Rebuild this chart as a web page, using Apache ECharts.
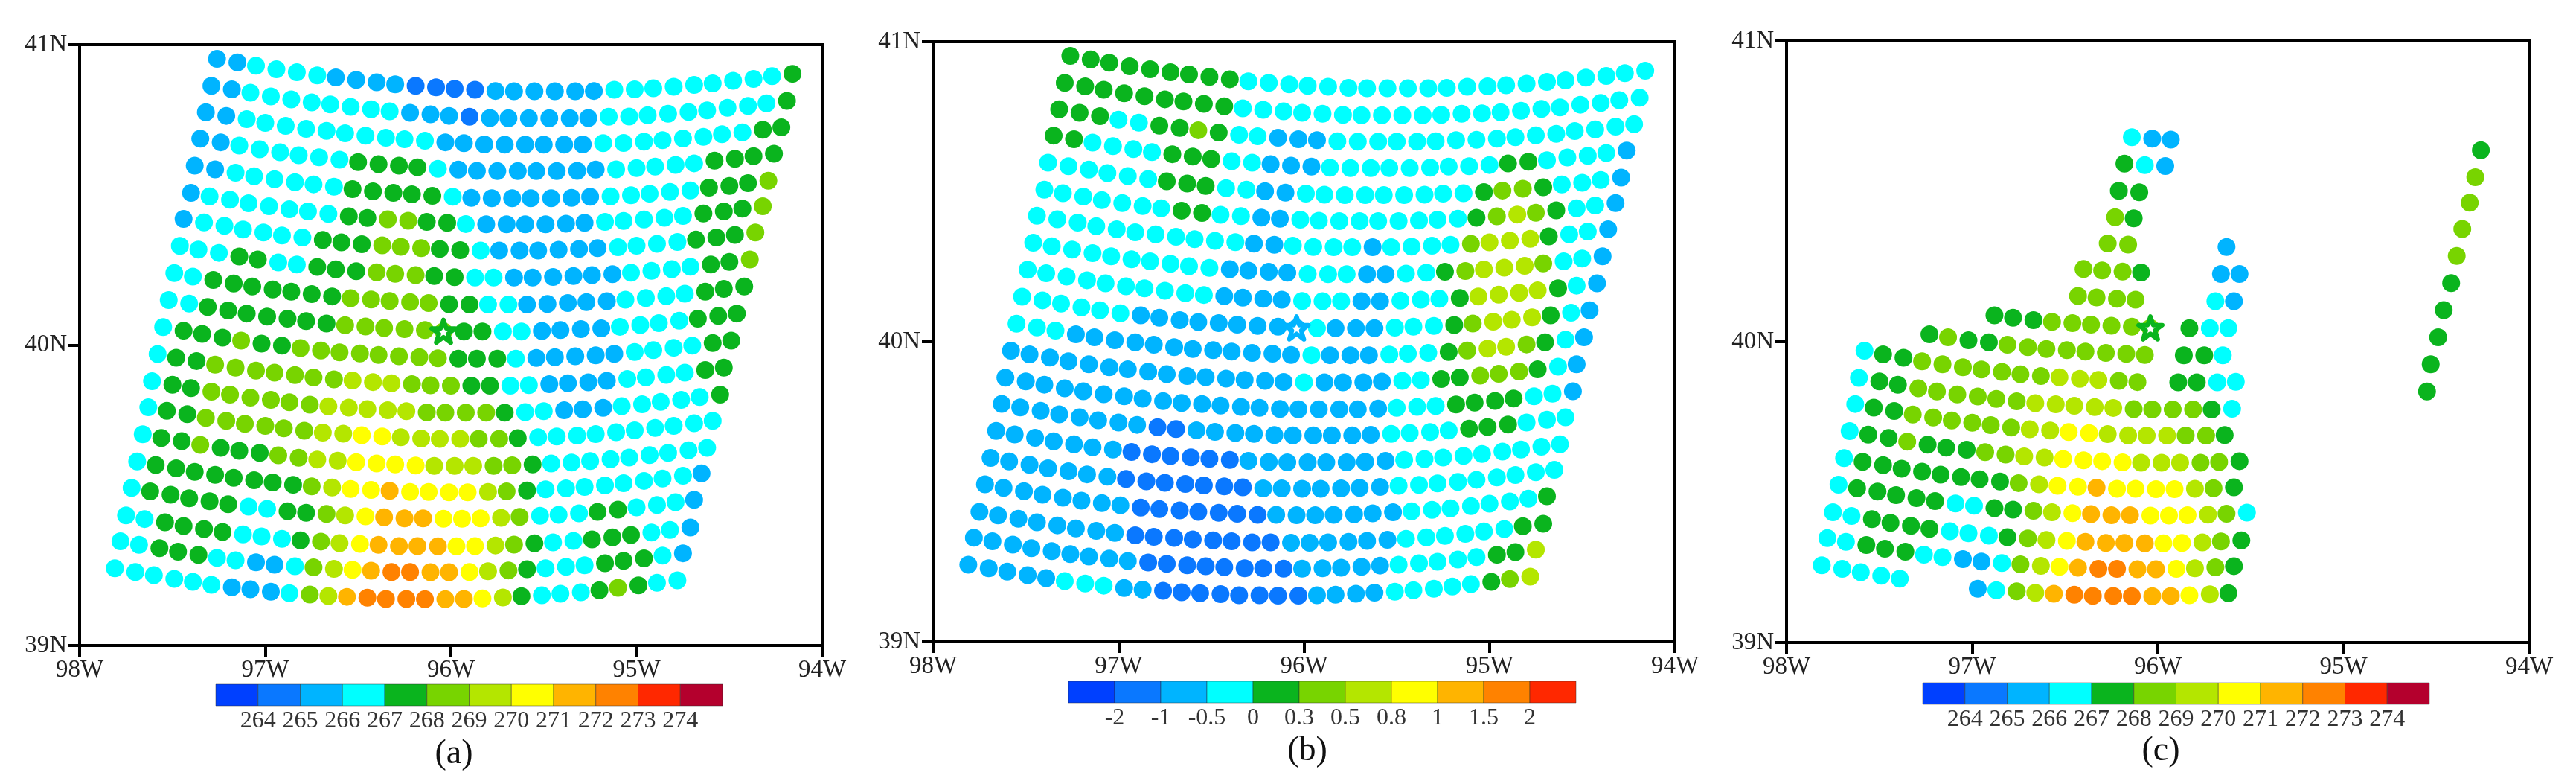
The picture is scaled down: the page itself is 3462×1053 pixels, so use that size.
<!DOCTYPE html>
<html>
<head>
<meta charset="utf-8">
<style>html,body{margin:0;background:#fff}#chart{width:3462px;height:1053px}</style>
<script src="https://cdn.jsdelivr.net/npm/echarts@6/dist/echarts.min.js"></script>
</head>
<body>
<div id="chart"></div>
<script>
// footprint longitude (degrees west), one row per scan line
const lonRows = [
[97.26,97.15,97.05,96.94,96.83,96.72,96.62,96.51,96.40,96.30,96.19,96.08,95.98,95.87,95.76,95.66,95.55,95.44,95.33,95.23,95.12,95.01,94.91,94.80,94.69,94.59,94.48,94.37,94.27,94.16],
[97.29,97.18,97.08,96.97,96.86,96.75,96.65,96.54,96.43,96.33,96.22,96.11,96.01,95.90,95.79,95.69,95.58,95.47,95.36,95.26,95.15,95.04,94.94,94.83,94.72,94.62,94.51,94.40,94.30,94.19],
[97.32,97.21,97.10,97.00,96.89,96.78,96.67,96.57,96.46,96.35,96.25,96.14,96.03,95.93,95.82,95.71,95.60,95.50,95.39,95.29,95.18,95.07,94.96,94.86,94.75,94.64,94.54,94.43,94.32,94.22],
[97.35,97.24,97.14,97.03,96.92,96.82,96.71,96.60,96.50,96.39,96.28,96.18,96.07,95.96,95.86,95.75,95.64,95.54,95.43,95.32,95.22,95.11,95.00,94.90,94.79,94.69,94.58,94.47,94.37,94.26],
[97.38,97.27,97.16,97.06,96.95,96.84,96.74,96.63,96.53,96.42,96.31,96.21,96.10,95.99,95.89,95.78,95.67,95.57,95.46,95.35,95.25,95.14,95.03,94.93,94.82,94.71,94.61,94.50,94.40,94.29],
[97.40,97.30,97.19,97.09,96.98,96.87,96.77,96.66,96.55,96.45,96.34,96.23,96.13,96.02,95.92,95.81,95.70,95.60,95.49,95.38,95.28,95.17,95.07,94.96,94.85,94.75,94.64,94.53,94.43,94.32],
[97.44,97.33,97.22,97.12,97.01,96.91,96.80,96.69,96.59,96.48,96.37,96.27,96.16,96.06,95.95,95.84,95.74,95.63,95.53,95.42,95.31,95.21,95.10,95.00,94.89,94.78,94.68,94.57,94.47,94.36],
[97.46,97.36,97.25,97.14,97.04,96.93,96.83,96.72,96.62,96.51,96.40,96.30,96.19,96.09,95.98,95.87,95.77,95.66,95.56,95.45,95.34,95.24,95.13,95.03,94.92,94.81,94.71,94.60,94.50,94.39],
[97.49,97.39,97.28,97.17,97.07,96.96,96.86,96.75,96.64,96.54,96.43,96.33,96.22,96.12,96.01,95.90,95.80,95.69,95.59,95.48,95.37,95.27,95.16,95.06,94.95,94.84,94.74,94.63,94.53,94.42],
[97.52,97.41,97.31,97.20,97.10,96.99,96.88,96.78,96.67,96.57,96.46,96.36,96.25,96.14,96.04,95.93,95.83,95.72,95.62,95.51,95.41,95.30,95.19,95.09,94.98,94.88,94.77,94.67,94.56,94.46],
[97.55,97.44,97.34,97.23,97.13,97.02,96.91,96.81,96.70,96.60,96.49,96.39,96.28,96.17,96.07,95.96,95.86,95.75,95.65,95.54,95.44,95.33,95.22,95.12,95.01,94.91,94.80,94.70,94.59,94.49],
[97.58,97.48,97.37,97.27,97.16,97.05,96.95,96.84,96.74,96.63,96.53,96.42,96.32,96.21,96.11,96.00,95.89,95.79,95.68,95.58,95.47,95.37,95.26,95.16,95.05,94.95,94.84,94.74,94.63,94.53],
[97.61,97.50,97.40,97.29,97.19,97.08,96.97,96.87,96.76,96.66,96.55,96.45,96.34,96.24,96.13,96.03,95.92,95.81,95.71,95.60,95.50,95.39,95.29,95.18,95.08,94.97,94.87,94.76,94.66,94.55],
[97.63,97.53,97.42,97.32,97.21,97.11,97.00,96.90,96.79,96.69,96.58,96.48,96.37,96.27,96.16,96.06,95.95,95.85,95.74,95.64,95.53,95.43,95.32,95.22,95.11,95.01,94.90,94.80,94.69,94.59],
[97.66,97.56,97.45,97.35,97.24,97.14,97.03,96.93,96.82,96.72,96.61,96.51,96.40,96.30,96.19,96.09,95.98,95.88,95.77,95.67,95.56,95.46,95.35,95.25,95.14,95.04,94.93,94.83,94.72,94.62],
[97.69,97.59,97.48,97.38,97.27,97.17,97.06,96.96,96.85,96.75,96.64,96.54,96.43,96.33,96.22,96.12,96.01,95.91,95.80,95.70,95.59,95.49,95.38,95.28,95.17,95.07,94.96,94.86,94.75,94.65],
[97.72,97.62,97.51,97.41,97.30,97.20,97.09,96.99,96.88,96.78,96.67,96.57,96.46,96.36,96.25,96.15,96.04,95.94,95.84,95.73,95.63,95.52,95.42,95.31,95.21,95.10,95.00,94.89,94.79,94.69],
[97.75,97.65,97.54,97.44,97.33,97.23,97.12,97.02,96.91,96.81,96.70,96.60,96.49,96.39,96.28,96.18,96.07,95.97,95.87,95.76,95.66,95.55,95.45,95.34,95.24,95.13,95.03,94.92,94.82,94.71],
[97.78,97.68,97.57,97.47,97.36,97.26,97.16,97.05,96.95,96.84,96.74,96.63,96.53,96.43,96.32,96.22,96.11,96.01,95.90,95.80,95.69,95.59,95.49,95.38,95.28,95.17,95.07,94.96,94.86,94.75],
[97.81,97.70,97.60,97.49,97.39,97.29,97.18,97.08,96.97,96.87,96.76,96.66,96.56,96.45,96.35,96.24,96.14,96.03,95.93,95.83,95.72,95.62,95.51,95.41,95.30,95.20,95.10,94.99,94.89,94.78]
];
// footprint latitude (degrees north)
const latRows = [
[40.953,40.941,40.930,40.918,40.908,40.898,40.891,40.883,40.875,40.868,40.863,40.858,40.853,40.850,40.846,40.845,40.845,40.845,40.845,40.846,40.850,40.851,40.855,40.860,40.866,40.871,40.880,40.886,40.895,40.903],
[40.863,40.851,40.840,40.828,40.818,40.808,40.801,40.793,40.785,40.778,40.773,40.768,40.763,40.760,40.756,40.755,40.755,40.755,40.755,40.756,40.760,40.761,40.765,40.770,40.776,40.781,40.790,40.796,40.805,40.813],
[40.775,40.763,40.752,40.740,40.730,40.720,40.713,40.705,40.697,40.690,40.685,40.680,40.675,40.672,40.668,40.667,40.667,40.667,40.667,40.668,40.672,40.673,40.677,40.682,40.688,40.693,40.702,40.708,40.717,40.725],
[40.687,40.675,40.664,40.652,40.642,40.632,40.625,40.617,40.609,40.602,40.597,40.592,40.587,40.584,40.580,40.579,40.579,40.579,40.579,40.580,40.584,40.585,40.589,40.594,40.600,40.605,40.614,40.620,40.629,40.637],
[40.597,40.585,40.574,40.562,40.552,40.542,40.535,40.527,40.519,40.512,40.507,40.502,40.497,40.494,40.490,40.489,40.489,40.489,40.489,40.490,40.494,40.495,40.499,40.504,40.510,40.515,40.524,40.530,40.539,40.547],
[40.507,40.495,40.484,40.472,40.462,40.452,40.445,40.437,40.429,40.423,40.419,40.414,40.410,40.407,40.403,40.402,40.402,40.402,40.402,40.404,40.407,40.410,40.413,40.418,40.424,40.430,40.438,40.445,40.454,40.462],
[40.420,40.408,40.397,40.385,40.375,40.365,40.358,40.350,40.342,40.336,40.332,40.327,40.323,40.320,40.316,40.315,40.315,40.315,40.315,40.317,40.320,40.323,40.326,40.331,40.337,40.343,40.351,40.358,40.367,40.375],
[40.330,40.318,40.307,40.295,40.285,40.275,40.268,40.260,40.252,40.246,40.242,40.237,40.233,40.230,40.226,40.225,40.225,40.225,40.225,40.227,40.230,40.233,40.236,40.241,40.247,40.253,40.261,40.268,40.277,40.285],
[40.240,40.228,40.217,40.205,40.195,40.185,40.178,40.170,40.162,40.156,40.152,40.147,40.143,40.140,40.136,40.135,40.135,40.135,40.135,40.137,40.140,40.143,40.146,40.151,40.157,40.163,40.171,40.178,40.187,40.195],
[40.150,40.138,40.127,40.115,40.105,40.095,40.088,40.080,40.072,40.066,40.062,40.057,40.053,40.050,40.046,40.045,40.045,40.045,40.045,40.047,40.050,40.053,40.056,40.061,40.067,40.073,40.081,40.088,40.097,40.105],
[40.060,40.048,40.037,40.025,40.015,40.005,39.998,39.990,39.982,39.976,39.972,39.967,39.963,39.960,39.956,39.955,39.955,39.955,39.955,39.957,39.960,39.963,39.966,39.971,39.977,39.983,39.991,39.998,40.007,40.015],
[39.970,39.958,39.947,39.935,39.925,39.915,39.908,39.900,39.892,39.886,39.882,39.877,39.873,39.870,39.866,39.865,39.865,39.865,39.865,39.867,39.870,39.873,39.876,39.881,39.887,39.893,39.901,39.908,39.917,39.925],
[39.880,39.868,39.857,39.845,39.835,39.825,39.818,39.810,39.802,39.796,39.792,39.787,39.783,39.780,39.776,39.775,39.775,39.775,39.775,39.777,39.780,39.783,39.786,39.791,39.797,39.803,39.811,39.818,39.827,39.835],
[39.793,39.781,39.770,39.758,39.748,39.738,39.731,39.723,39.715,39.709,39.705,39.700,39.696,39.693,39.689,39.688,39.688,39.688,39.688,39.690,39.693,39.696,39.699,39.704,39.710,39.716,39.724,39.731,39.740,39.748],
[39.703,39.691,39.680,39.668,39.658,39.648,39.641,39.633,39.625,39.619,39.615,39.610,39.606,39.603,39.599,39.598,39.598,39.598,39.598,39.600,39.603,39.606,39.609,39.614,39.620,39.626,39.634,39.641,39.650,39.658],
[39.613,39.601,39.590,39.578,39.568,39.558,39.550,39.543,39.535,39.530,39.526,39.521,39.518,39.515,39.511,39.511,39.510,39.510,39.511,39.513,39.516,39.520,39.523,39.528,39.533,39.540,39.548,39.556,39.565,39.573],
[39.525,39.513,39.502,39.490,39.480,39.470,39.462,39.455,39.447,39.442,39.438,39.433,39.430,39.427,39.423,39.423,39.422,39.422,39.423,39.425,39.428,39.432,39.435,39.440,39.445,39.452,39.460,39.468,39.477,39.485],
[39.433,39.421,39.410,39.398,39.388,39.378,39.370,39.363,39.355,39.350,39.346,39.341,39.338,39.335,39.331,39.331,39.330,39.330,39.331,39.333,39.336,39.340,39.343,39.348,39.353,39.360,39.368,39.376,39.385,39.393],
[39.347,39.335,39.324,39.312,39.302,39.292,39.284,39.277,39.269,39.264,39.260,39.255,39.252,39.249,39.245,39.245,39.244,39.244,39.245,39.247,39.250,39.254,39.257,39.262,39.267,39.274,39.282,39.290,39.299,39.307],
[39.257,39.245,39.234,39.222,39.212,39.202,39.194,39.187,39.179,39.174,39.170,39.165,39.162,39.159,39.155,39.155,39.154,39.154,39.155,39.157,39.160,39.164,39.167,39.172,39.177,39.184,39.192,39.200,39.209,39.217]
];
// panel (a): brightness temperature, K
const tempA = [
[265.5,265.5,266.5,266.5,266.5,266.5,265.5,265.5,265.5,265.5,264.5,264.5,264.5,264.5,265.5,265.5,265.5,265.5,265.5,265.5,266.5,266.5,266.5,266.5,266.5,266.5,266.5,266.5,266.5,267.5],
[265.5,265.5,266.5,266.5,266.5,266.5,266.5,266.5,266.5,266.5,265.5,265.5,265.5,264.5,265.5,265.5,265.5,265.5,265.5,265.5,266.5,266.5,266.5,266.5,266.5,266.5,266.5,266.5,266.5,267.5],
[265.5,265.5,266.5,266.5,266.5,266.5,266.5,266.5,266.5,266.5,266.5,266.5,265.5,265.5,265.5,265.5,265.5,265.5,265.5,265.5,266.5,266.5,266.5,266.5,266.5,266.5,266.5,266.5,267.5,267.5],
[265.5,265.5,266.5,266.5,266.5,266.5,266.5,266.5,267.5,267.5,267.5,267.5,266.5,265.5,265.5,265.5,265.5,265.5,265.5,265.5,265.5,266.5,266.5,266.5,266.5,266.5,267.5,267.5,267.5,267.5],
[265.5,265.5,266.5,266.5,266.5,266.5,266.5,266.5,267.5,267.5,267.5,267.5,267.5,266.5,265.5,265.5,265.5,265.5,265.5,265.5,265.5,266.5,266.5,266.5,266.5,266.5,267.5,267.5,267.5,268.5],
[265.5,266.5,266.5,266.5,266.5,266.5,266.5,266.5,267.5,267.5,268.5,268.5,267.5,267.5,266.5,265.5,265.5,265.5,265.5,265.5,265.5,266.5,266.5,266.5,266.5,266.5,267.5,267.5,267.5,268.5],
[265.5,266.5,266.5,266.5,266.5,266.5,266.5,267.5,267.5,267.5,268.5,268.5,268.5,267.5,267.5,266.5,265.5,265.5,265.5,265.5,265.5,265.5,266.5,266.5,266.5,266.5,267.5,267.5,267.5,268.5],
[266.5,266.5,266.5,267.5,267.5,266.5,266.5,267.5,267.5,267.5,268.5,268.5,268.5,267.5,267.5,266.5,266.5,265.5,265.5,265.5,265.5,265.5,265.5,266.5,266.5,266.5,266.5,267.5,267.5,268.5],
[266.5,266.5,267.5,267.5,267.5,267.5,267.5,267.5,267.5,268.5,268.5,268.5,268.5,268.5,267.5,267.5,266.5,266.5,265.5,265.5,265.5,265.5,265.5,266.5,266.5,266.5,266.5,267.5,267.5,267.5],
[266.5,266.5,267.5,267.5,267.5,267.5,267.5,267.5,267.5,268.5,268.5,268.5,268.5,268.5,268.5,267.5,267.5,266.5,266.5,265.5,265.5,265.5,265.5,266.5,266.5,266.5,266.5,267.5,267.5,267.5],
[266.5,267.5,267.5,267.5,268.5,267.5,267.5,268.5,268.5,268.5,268.5,268.5,268.5,268.5,268.5,267.5,267.5,267.5,266.5,265.5,265.5,265.5,265.5,265.5,266.5,266.5,266.5,266.5,267.5,267.5],
[266.5,267.5,267.5,268.5,268.5,268.5,268.5,268.5,268.5,268.5,269.5,269.5,269.5,268.5,268.5,268.5,267.5,267.5,266.5,266.5,265.5,265.5,265.5,265.5,266.5,266.5,266.5,266.5,267.5,267.5],
[266.5,267.5,267.5,268.5,268.5,268.5,268.5,268.5,268.5,269.5,269.5,269.5,269.5,269.5,268.5,268.5,268.5,268.5,267.5,266.5,266.5,265.5,265.5,265.5,266.5,266.5,266.5,266.5,266.5,267.5],
[266.5,267.5,267.5,268.5,268.5,268.5,268.5,268.5,268.5,269.5,269.5,270.5,270.5,269.5,269.5,269.5,269.5,268.5,268.5,267.5,266.5,266.5,266.5,266.5,266.5,266.5,266.5,266.5,266.5,266.5],
[266.5,267.5,267.5,268.5,267.5,267.5,267.5,268.5,268.5,269.5,269.5,270.5,270.5,270.5,270.5,269.5,269.5,269.5,268.5,268.5,267.5,266.5,266.5,266.5,266.5,266.5,266.5,266.5,266.5,266.5],
[266.5,267.5,267.5,267.5,267.5,267.5,267.5,267.5,267.5,268.5,269.5,270.5,270.5,271.5,270.5,270.5,270.5,270.5,269.5,268.5,267.5,266.5,266.5,266.5,266.5,266.5,266.5,266.5,266.5,265.5],
[266.5,267.5,267.5,267.5,267.5,267.5,266.5,266.5,267.5,267.5,268.5,269.5,270.5,271.5,271.5,271.5,270.5,270.5,270.5,269.5,268.5,266.5,266.5,266.5,267.5,267.5,266.5,266.5,266.5,265.5],
[266.5,266.5,267.5,267.5,267.5,267.5,266.5,266.5,266.5,267.5,268.5,269.5,270.5,271.5,271.5,271.5,271.5,270.5,270.5,269.5,268.5,267.5,266.5,266.5,267.5,267.5,267.5,266.5,266.5,265.5],
[266.5,266.5,267.5,267.5,267.5,266.5,266.5,265.5,265.5,266.5,268.5,269.5,270.5,271.5,272.5,272.5,271.5,271.5,270.5,269.5,268.5,267.5,266.5,266.5,266.5,267.5,267.5,267.5,266.5,265.5],
[266.5,266.5,266.5,266.5,266.5,266.5,265.5,265.5,265.5,266.5,268.5,269.5,271.5,272.5,272.5,272.5,272.5,271.5,271.5,270.5,269.5,267.5,266.5,266.5,266.5,267.5,268.5,267.5,266.5,266.5]
];
// panel (b): temperature difference, K
const diffB = [
[0.15,0.15,0.15,0.15,0.15,0.15,0.15,0.15,0.15,-0.25,-0.25,-0.25,-0.25,-0.25,-0.25,-0.25,-0.25,-0.25,-0.25,-0.25,-0.25,-0.25,-0.25,-0.25,-0.25,-0.25,-0.25,-0.25,-0.25,-0.25],
[0.15,0.15,0.15,0.15,0.15,0.15,0.15,0.15,0.15,-0.25,-0.25,-0.25,-0.25,-0.25,-0.25,-0.25,-0.25,-0.25,-0.25,-0.25,-0.25,-0.25,-0.25,-0.25,-0.25,-0.25,-0.25,-0.25,-0.25,-0.25],
[0.15,0.15,0.15,-0.25,-0.25,0.15,0.15,0.4,0.15,-0.25,-0.25,-0.75,-0.75,-0.75,-0.25,-0.25,-0.25,-0.25,-0.25,-0.25,-0.25,-0.25,-0.25,-0.25,-0.25,-0.25,-0.25,-0.25,-0.25,-0.25],
[0.15,0.15,-0.25,-0.25,-0.25,-0.25,0.15,0.15,0.15,-0.25,-0.25,-0.75,-0.75,-0.75,-0.25,-0.25,-0.25,-0.25,-0.25,-0.25,-0.25,-0.25,-0.25,0.15,0.15,-0.25,-0.25,-0.25,-0.25,-0.75],
[-0.25,-0.25,-0.25,-0.25,-0.25,-0.25,0.15,0.15,0.15,-0.25,-0.25,-0.75,-0.75,-0.25,-0.25,-0.25,-0.25,-0.25,-0.25,-0.25,-0.25,-0.25,0.15,0.4,0.4,0.15,-0.25,-0.25,-0.25,-0.75],
[-0.25,-0.25,-0.25,-0.25,-0.25,-0.25,-0.25,0.15,0.15,-0.25,-0.25,-0.75,-0.75,-0.25,-0.25,-0.25,-0.25,-0.25,-0.25,-0.25,-0.25,-0.25,0.15,0.4,0.65,0.4,0.15,-0.25,-0.25,-0.75],
[-0.25,-0.25,-0.25,-0.25,-0.25,-0.25,-0.25,-0.25,-0.25,-0.25,-0.25,-0.75,-0.75,-0.25,-0.25,-0.25,-0.25,-0.75,-0.25,-0.25,-0.25,-0.25,0.4,0.65,0.65,0.65,0.15,-0.25,-0.25,-0.75],
[-0.25,-0.25,-0.25,-0.25,-0.25,-0.25,-0.25,-0.25,-0.25,-0.25,-0.75,-0.75,-0.75,-0.75,-0.25,-0.25,-0.25,-0.75,-0.75,-0.25,-0.25,0.15,0.4,0.65,0.65,0.65,0.4,-0.25,-0.25,-0.75],
[-0.25,-0.25,-0.25,-0.25,-0.25,-0.25,-0.25,-0.25,-0.25,-0.25,-0.75,-0.75,-0.75,-0.75,-0.25,-0.25,-0.25,-0.75,-0.75,-0.25,-0.25,-0.25,0.15,0.65,0.65,0.65,0.65,0.15,-0.25,-0.75],
[-0.25,-0.25,-0.25,-0.25,-0.25,-0.25,-0.75,-0.75,-0.75,-0.75,-0.75,-0.75,-0.75,-0.75,-0.75,-0.25,-0.75,-0.75,-0.75,-0.25,-0.25,-0.25,0.15,0.4,0.65,0.65,0.65,0.15,-0.25,-0.75],
[-0.25,-0.25,-0.25,-0.75,-0.75,-0.75,-0.75,-0.75,-0.75,-0.75,-0.75,-0.75,-0.75,-0.75,-0.75,-0.25,-0.75,-0.75,-0.75,-0.25,-0.25,-0.25,0.15,0.4,0.65,0.65,0.4,0.15,-0.25,-0.75],
[-0.75,-0.75,-0.75,-0.75,-0.75,-0.75,-0.75,-0.75,-0.75,-0.75,-0.75,-0.75,-0.75,-0.75,-0.75,-0.25,-0.75,-0.75,-0.75,-0.75,-0.25,-0.25,0.15,0.15,0.4,0.4,0.4,0.15,-0.25,-0.75],
[-0.75,-0.75,-0.75,-0.75,-0.75,-0.75,-0.75,-0.75,-0.75,-0.75,-0.75,-0.75,-0.75,-0.75,-0.75,-0.75,-0.75,-0.75,-0.75,-0.75,-0.25,-0.25,-0.25,0.15,0.15,0.15,0.15,-0.25,-0.25,-0.75],
[-0.75,-0.75,-0.75,-0.75,-0.75,-0.75,-0.75,-0.75,-1.5,-1.5,-0.75,-0.75,-0.75,-0.75,-0.75,-0.75,-0.75,-0.75,-0.75,-0.75,-0.25,-0.25,-0.25,-0.25,0.15,0.15,0.15,-0.25,-0.25,-0.25],
[-0.75,-0.75,-0.75,-0.75,-0.75,-0.75,-0.75,-1.5,-1.5,-1.5,-1.5,-1.5,-1.5,-0.75,-0.75,-0.75,-0.75,-0.75,-0.75,-0.75,-0.75,-0.25,-0.25,-0.25,-0.25,-0.25,-0.25,-0.25,-0.25,-0.25],
[-0.75,-0.75,-0.75,-0.75,-0.75,-0.75,-0.75,-1.5,-1.5,-1.5,-1.5,-1.5,-1.5,-1.5,-0.75,-0.75,-0.75,-0.75,-0.75,-0.75,-0.75,-0.25,-0.25,-0.25,-0.25,-0.25,-0.25,-0.25,-0.25,-0.25],
[-0.75,-0.75,-0.75,-0.75,-0.75,-0.75,-0.75,-0.75,-1.5,-1.5,-1.5,-1.5,-1.5,-1.5,-1.5,-0.75,-0.75,-0.75,-0.75,-0.75,-0.75,-0.75,-0.25,-0.25,-0.25,-0.25,-0.25,-0.25,-0.25,0.15],
[-0.75,-0.75,-0.75,-0.75,-0.75,-0.75,-0.75,-0.75,-1.5,-1.5,-1.5,-1.5,-1.5,-1.5,-1.5,-1.5,-0.75,-0.75,-0.75,-0.75,-0.75,-0.75,-0.25,-0.25,-0.25,-0.25,-0.25,-0.25,0.15,0.15],
[-0.75,-0.75,-0.75,-0.75,-0.75,-0.75,-0.75,-0.75,-0.75,-1.5,-1.5,-1.5,-1.5,-1.5,-1.5,-1.5,-1.5,-0.75,-0.75,-0.75,-0.75,-0.75,-0.25,-0.25,-0.25,-0.25,-0.25,0.15,0.15,0.65],
[-0.75,-0.75,-0.75,-0.75,-0.75,-0.25,-0.25,-0.25,-0.75,-0.75,-1.5,-1.5,-1.5,-1.5,-1.5,-1.5,-1.5,-1.5,-0.75,-0.75,-0.75,-0.75,-0.25,-0.25,-0.25,-0.25,-0.25,0.15,0.4,0.65]
];
// panel (c) keeps the same values as (a) but only these column ranges survive, per scan line
const columnsC = [
[],[],[[11,13]],[[11,13],[29,29]],[[11,12],[29,29]],[[11,12],[29,29]],[[11,12],[17,17],[29,29]],
[[10,13],[17,18],[29,29]],[[10,13],[17,18],[29,29]],[[6,14],[16,18],[29,29]],[[3,14],[16,18],[29,29]],
[[0,14],[16,19],[29,29]],[[0,19],[29,29]],[[0,19]],[[0,20]],[[0,20]],[[0,21]],[[0,21]],[[0,21]],[[0,4],[8,21]]
];
const stationLon = 96.04;
const stationLat = 40.046;
const tempEdges = [264,265,266,267,268,269,270,271,272,273,274];
const tempLabels = ['264','265','266','267','268','269','270','271','272','273','274'];
const diffEdges = [-2,-1,-0.5,0,0.3,0.5,0.8,1,1.5,2];
const diffLabels = ['-2','-1','-0.5','0','0.3','0.5','0.8','1','1.5','2'];
const binColors = ['#0040ff','#0a78ff','#00b4ff','#00ffff','#0ab41e','#78d400','#b4e600','#ffff00','#ffb400','#ff8200','#ff2800','#b4002d'];
const panelNames = ['(a)','(b)','(c)'];

const starPath = 'path://M50 2 L61 36 L97 36 L68 57 L79 92 L50 70 L21 92 L32 57 L3 36 L39 36 Z';
const serif = '"Liberation Serif"';

const panels = [
  { left: 107, top: 60, width: 998, height: 807, barLeft: 290, barTop: 919, barWidth: 681, nameX: 605, nameTop: 985, star: '#0ab41e' },
  { left: 1254, top: 56, width: 997, height: 806, barLeft: 1436, barTop: 915, barWidth: 682, nameX: 1752, nameTop: 981, star: '#00b4ff' },
  { left: 2401, top: 55, width: 998, height: 808, barLeft: 2584, barTop: 917, barWidth: 681, nameX: 2899, nameTop: 981, star: '#0ab41e' }
];

function footprints(values) {
  const out = [];
  values.forEach((row, r) => row.forEach((v, c) => out.push([lonRows[r][c], latRows[r][c], v])));
  return out;
}
function footprintsC() {
  const out = [];
  columnsC.forEach((ranges, r) => ranges.forEach(([from, to]) => {
    for (let c = from; c <= to; c++) out.push([lonRows[r][c], latRows[r][c], tempA[r][c]]);
  }));
  return out;
}
function pieces(edges) {
  const out = [{ lt: edges[0], color: binColors[0] }];
  edges.forEach((e, i) => {
    const next = edges[i + 1];
    out.push(next === undefined ? { gte: e, color: binColors[i + 1] } : { gte: e, lt: next, color: binColors[i + 1] });
  });
  return out;
}
function renderBin(params, api) {
  const a = api.coord([api.value(0), 1]);
  const b = api.coord([api.value(1), 0]);
  return {
    type: 'rect',
    shape: { x: a[0], y: a[1], width: b[0] - a[0], height: b[1] - a[1] },
    style: { fill: binColors[api.value(0)], stroke: 'rgba(40,40,40,0.45)', lineWidth: 1 }
  };
}

const barLabels = [tempLabels, diffLabels, tempLabels];
const grid = [], xAxis = [], yAxis = [], series = [], title = [];
const dotData = [footprints(tempA), footprints(diffB), footprintsC()];

panels.forEach((p, i) => {
  grid.push({ left: p.left, top: p.top, width: p.width, height: p.height, show: true, borderColor: '#000', borderWidth: 4, backgroundColor: '#fff' });
  xAxis.push({
    gridIndex: i, type: 'value', min: 94, max: 98, interval: 1, inverse: true,
    axisLine: { show: true, onZero: false, lineStyle: { color: '#000', width: 4 } },
    axisTick: { show: true, length: 15, lineStyle: { color: '#000', width: 4 } },
    axisLabel: { margin: 17, fontFamily: serif, fontSize: 33, color: '#222', formatter: v => v + 'W', showMinLabel: true, showMaxLabel: true },
    splitLine: { show: false }
  });
  yAxis.push({
    gridIndex: i, type: 'value', min: 39, max: 41, interval: 1,
    axisLine: { show: true, onZero: false, lineStyle: { color: '#000', width: 4 } },
    axisTick: { show: true, length: 15, lineStyle: { color: '#000', width: 4 } },
    axisLabel: { margin: 17, fontFamily: serif, fontSize: 33, color: '#222', formatter: v => v + 'N', showMinLabel: true, showMaxLabel: true },
    splitLine: { show: false }
  });
  series.push({
    type: 'scatter', xAxisIndex: i, yAxisIndex: i, data: dotData[i], symbol: 'circle', symbolSize: 24,
    itemStyle: { opacity: 1 }, silent: true, animation: false, z: 2
  });
  series.push({
    type: 'scatter', xAxisIndex: i, yAxisIndex: i, data: [[stationLon, stationLat]], symbol: starPath, symbolSize: 32,
    symbolKeepAspect: true, itemStyle: { color: '#fff', opacity: 1, borderColor: p.star, borderWidth: 6, borderJoin: 'round' },
    silent: true, animation: false, z: 5
  });
  title.push({
    text: panelNames[i], left: p.nameX, top: p.nameTop, textAlign: 'center',
    textStyle: { fontFamily: serif, fontSize: 46, fontWeight: 'normal', color: '#111' }
  });
});

// colour bars sit on their own small grids, one axis unit per colour bin
panels.forEach((p, i) => {
  const labels = barLabels[i];
  const g = panels.length + i;
  grid.push({ left: p.barLeft, top: p.barTop, width: p.barWidth, height: 29, show: false });
  xAxis.push({
    gridIndex: g, type: 'value', min: 0, max: labels.length + 1, interval: 1,
    axisLine: { show: false }, axisTick: { show: false }, splitLine: { show: false },
    axisLabel: { margin: 5, fontFamily: serif, fontSize: 32, color: '#333', showMinLabel: true, showMaxLabel: true, formatter: v => labels[v - 1] || '' }
  });
  yAxis.push({ gridIndex: g, type: 'value', min: 0, max: 1, show: false });
  const bins = [];
  for (let k = 0; k <= labels.length; k++) bins.push([k, k + 1]);
  series.push({
    type: 'custom', xAxisIndex: g, yAxisIndex: g, data: bins, renderItem: renderBin,
    encode: { x: [0, 1] }, silent: true, animation: false, clip: false
  });
});

const chart = echarts.init(document.getElementById('chart'));
chart.setOption({
  backgroundColor: '#fff',
  animation: false,
  title, grid, xAxis, yAxis, series,
  visualMap: [
    { type: 'piecewise', show: false, seriesIndex: [0, 4], dimension: 2, pieces: pieces(tempEdges) },
    { type: 'piecewise', show: false, seriesIndex: 2, dimension: 2, pieces: pieces(diffEdges) }
  ]
});
</script>
</body>
</html>
